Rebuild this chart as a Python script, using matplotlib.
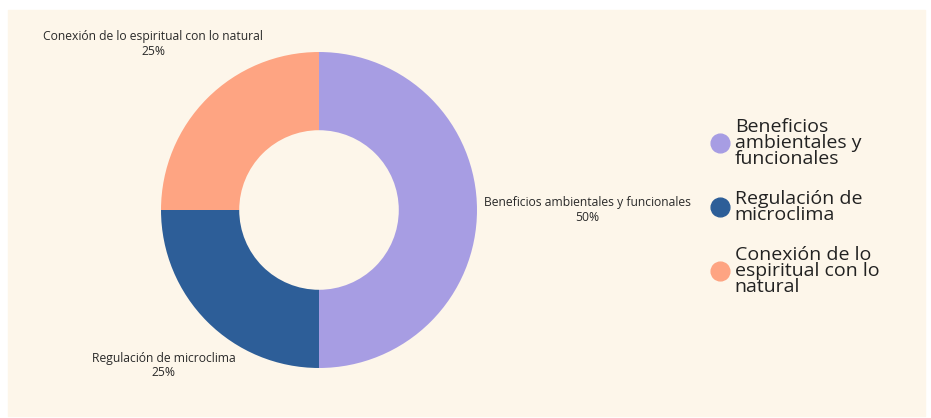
import matplotlib.pyplot as plt
import numpy as np

categorias = ["Beneficios ambientales y funcionales",
              "Regulación de microclima",
              "Conexión de lo espiritual con lo natural"]
leyenda = ["Beneficios\nambientales y\nfuncionales",
           "Regulación de\nmicroclima",
           "Conexión de lo\nespiritual con lo\nnatural"]
valores = [50, 25, 25]
colores = ["#A79DE3", "#2D5E98", "#FEA482"]

fondo = "#FDF6EA"

plt.rcParams['font.family'] = ['Open Sans', 'DejaVu Sans']

fig = plt.figure(figsize=(9.31, 4.18), dpi=100)
fig.patch.set_facecolor("white")
# panel crema
fig.add_artist(plt.Rectangle((8 / 931, 2 / 418), 917 / 931, 406 / 418,
                             transform=fig.transFigure, color=fondo, zorder=0))

ax = fig.add_axes([(319 - 170) / 931, (208 - 170) / 418, 340 / 931, 340 / 418])
ax.set_facecolor("none")
wedges, _ = ax.pie(valores, colors=colores, startangle=90, counterclock=False,
                   radius=1, wedgeprops=dict(width=0.495, linewidth=0))
ax.set_xlim(-1.076, 1.076)
ax.set_ylim(-1.076, 1.076)
ax.set_aspect('equal')
ax.axis('off')

total = sum(valores)
dist = [1.70, 1.39, 1.485]
for w, cat, v, d in zip(wedges, categorias, valores, dist):
    ang = np.deg2rad((w.theta1 + w.theta2) / 2)
    ax.text(d * np.cos(ang), d * np.sin(ang), f"{cat}\n{v / total * 100:.0f}%",
            ha='center', va='center', fontsize=8.7, color="#2a2a2a",
            linespacing=1.15, clip_on=False)

handles = [plt.Line2D([], [], marker='o', linestyle='', markersize=13.5,
                      markerfacecolor=c, markeredgecolor=c) for c in colores]
leg = fig.legend(handles, leyenda, loc='center left',
                 bbox_to_anchor=(694 / 931, 0.505), frameon=False,
                 fontsize=14, labelspacing=1.15, handletextpad=0.3,
                 handlelength=0.9)
for t in leg.get_texts():
    t.set_linespacing(0.85)
    t.set_color("#222222")

fig.savefig("out.png", dpi=100, facecolor=fig.get_facecolor())
